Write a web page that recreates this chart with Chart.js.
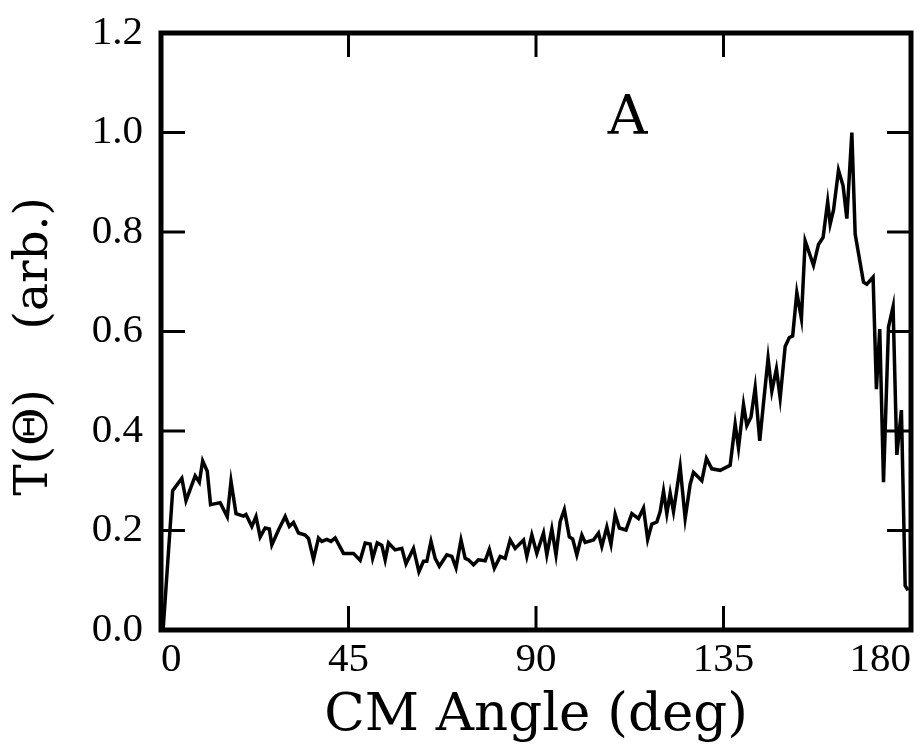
<!DOCTYPE html>
<html lang="en">
<head>
  <meta charset="UTF-8">
  <title>T(Theta) vs CM Angle</title>
  <script src="https://cdn.jsdelivr.net/npm/chart.js"></script>
  <style>
    body { margin: 0; background: #ffffff; }
    #wrap { width: 922px; height: 750px; }
  </style>
</head>
<body>
<div id="wrap"><canvas id="myChart" width="922" height="750"></canvas></div>

<script>
  // values
  const angleDeg = [
    0.5, 2.8, 5.0, 6.0, 8.2, 9.2, 10.0, 11.1, 11.9, 14.2,
    15.9, 16.8, 18.0, 19.8, 20.4, 21.8, 22.8, 23.8, 25.0, 26.0,
    26.6, 28.2, 29.8, 30.8, 31.8, 33.0, 34.6, 35.4, 36.6, 37.8,
    38.6, 39.8, 40.8, 41.8, 43.8, 46.2, 47.8, 49.0, 50.2, 50.8,
    51.9, 53.0, 53.8, 54.6, 56.2, 57.8, 58.8, 60.6, 61.9, 63.0,
    63.8, 64.8, 65.8, 66.8, 68.6, 69.8, 70.8, 72.0, 73.0, 73.8,
    75.0, 76.2, 77.8, 78.8, 80.0, 81.4, 82.6, 83.8, 85.0, 87.0,
    87.8, 89.0, 90.2, 91.8, 92.6, 93.8, 94.8, 95.8, 96.8, 98.0,
    98.8, 99.8, 101.0, 101.8, 103.8, 105.0, 105.8, 107.0, 108.0, 109.0,
    110.0, 111.6, 113.0, 114.6, 115.8, 116.8, 117.8, 119.0, 119.8, 120.6,
    121.4, 122.2, 123.0, 123.8, 124.6, 125.8, 127.0, 127.8, 129.8, 130.9,
    132.2, 134.2, 136.6, 137.8, 138.6, 139.8, 140.6, 141.6, 142.6, 143.7,
    144.6, 145.7, 146.6, 147.7, 148.6, 149.8, 150.8, 151.6, 152.6, 153.7,
    154.6, 156.6, 157.8, 158.9, 160.0, 160.6, 161.4, 162.6, 163.7, 164.6,
    165.8, 166.6, 168.6, 169.4, 170.9, 171.7, 172.5, 173.4, 174.6, 175.7,
    176.6, 177.7, 178.6, 179.3
  ];
  const tValue = [
    0.0, 0.28, 0.305, 0.26, 0.31, 0.297, 0.34, 0.319, 0.252, 0.256,
    0.228, 0.299, 0.234, 0.229, 0.232, 0.208, 0.228, 0.187, 0.205, 0.203,
    0.171, 0.201, 0.228, 0.208, 0.216, 0.195, 0.191, 0.184, 0.142, 0.185,
    0.178, 0.182, 0.178, 0.185, 0.154, 0.154, 0.140, 0.175, 0.173, 0.144,
    0.175, 0.170, 0.141, 0.175, 0.161, 0.164, 0.133, 0.164, 0.117, 0.138,
    0.138, 0.178, 0.144, 0.128, 0.151, 0.148, 0.125, 0.181, 0.144, 0.141,
    0.131, 0.141, 0.139, 0.162, 0.124, 0.148, 0.144, 0.181, 0.164, 0.181,
    0.148, 0.191, 0.154, 0.195, 0.151, 0.203, 0.151, 0.218, 0.242, 0.187,
    0.183, 0.151, 0.191, 0.176, 0.181, 0.195, 0.168, 0.207, 0.172, 0.232,
    0.205, 0.201, 0.234, 0.224, 0.245, 0.182, 0.213, 0.217, 0.238, 0.279,
    0.234, 0.275, 0.238, 0.283, 0.328, 0.224, 0.293, 0.317, 0.300, 0.345,
    0.324, 0.321, 0.331, 0.414, 0.366, 0.453, 0.411, 0.428, 0.487, 0.380,
    0.456, 0.546, 0.480, 0.525, 0.466, 0.570, 0.588, 0.591, 0.678, 0.626,
    0.782, 0.733, 0.775, 0.789, 0.861, 0.816, 0.844, 0.924, 0.893, 0.827,
    1.0, 0.796, 0.699, 0.695, 0.709, 0.484, 0.605, 0.297, 0.609, 0.650,
    0.352, 0.442, 0.089, 0.08
  ];
  const xTicks = [0, 45, 90, 135, 180];
  const yTicks = [0.0, 0.2, 0.4, 0.6, 0.8, 1.0, 1.2];

  const points = angleDeg.map((a, i) => ({ x: a, y: tValue[i] }));

  // frame, inward ticks and the panel letter
  const framePlugin = {
    id: 'frame',
    afterDatasetsDraw(chart) {
      const { ctx, chartArea, scales } = chart;
      const { left, right, top, bottom } = chartArea;
      ctx.save();
      ctx.strokeStyle = '#000';
      ctx.lineWidth = 3;
      xTicks.slice(1, -1).forEach((v) => {
        const px = scales.x.getPixelForValue(v);
        ctx.beginPath();
        ctx.moveTo(px, bottom); ctx.lineTo(px, bottom - 24);
        ctx.moveTo(px, top); ctx.lineTo(px, top + 24);
        ctx.stroke();
      });
      yTicks.slice(1, -1).forEach((v) => {
        const py = scales.y.getPixelForValue(v);
        ctx.beginPath();
        ctx.moveTo(left, py); ctx.lineTo(left + 24, py);
        ctx.moveTo(right, py); ctx.lineTo(right - 24, py);
        ctx.stroke();
      });
      ctx.lineWidth = 5;
      ctx.strokeRect(left, top, right - left, bottom - top);

      ctx.fillStyle = '#000';
      ctx.font = '55px "DejaVu Serif"';
      ctx.textAlign = 'center';
      ctx.textBaseline = 'alphabetic';
      ctx.fillText('A', scales.x.getPixelForValue(112), scales.y.getPixelForValue(0.997));
      ctx.restore();
    }
  };

  const ctx = document.getElementById('myChart').getContext('2d');
  new Chart(ctx, {
    type: 'scatter',
    data: {
      datasets: [{
        data: points,
        showLine: true,
        borderColor: '#000',
        borderWidth: 3.5,
        pointRadius: 0,
        tension: 0,
      }],
    },
    options: {
      responsive: false,
      animation: false,
      layout: { padding: { top: 33, right: 11, left: 0, bottom: 0 } },
      plugins: { legend: { display: false }, tooltip: { enabled: false } },
      scales: {
        x: {
          type: 'linear',
          min: 0,
          max: 180,
          afterBuildTicks: (scale) => { scale.ticks = xTicks.map((v) => ({ value: v })); },
          afterFit: (scale) => { scale.height = 120; scale.paddingLeft = 0; scale.paddingRight = 0; },
          grid: { display: false, drawTicks: false },
          border: { display: false },
          ticks: {
            color: '#000',
            align: 'inner',
            padding: 6,
            maxRotation: 0,
            font: { family: 'Liberation Serif', size: 41 },
          },
          title: {
            display: true,
            text: 'CM Angle (deg)',
            color: '#000',
            padding: { top: 0, bottom: 7 },
            font: { family: 'DejaVu Serif', size: 53, lineHeight: 1 },
          },
        },
        y: {
          min: 0,
          max: 1.2,
          afterBuildTicks: (scale) => { scale.ticks = yTicks.map((v) => ({ value: v })); },
          afterFit: (scale) => { scale.width = 161; scale.paddingTop = 0; scale.paddingBottom = 0; },
          grid: { display: false, drawTicks: false },
          border: { display: false },
          ticks: {
            color: '#000',
            padding: 18,
            font: { family: 'Liberation Serif', size: 41 },
            callback: (v) => v.toFixed(1),
          },
          title: {
            display: true,
            text: 'T(\u0398)    (arb.)  ',
            color: '#000',
            padding: { top: 11, bottom: 0 },
            font: { family: 'DejaVu Serif', size: 47, lineHeight: 1 },
          },
        },
      },
    },
    plugins: [framePlugin],
  });
</script>
</body>
</html>
